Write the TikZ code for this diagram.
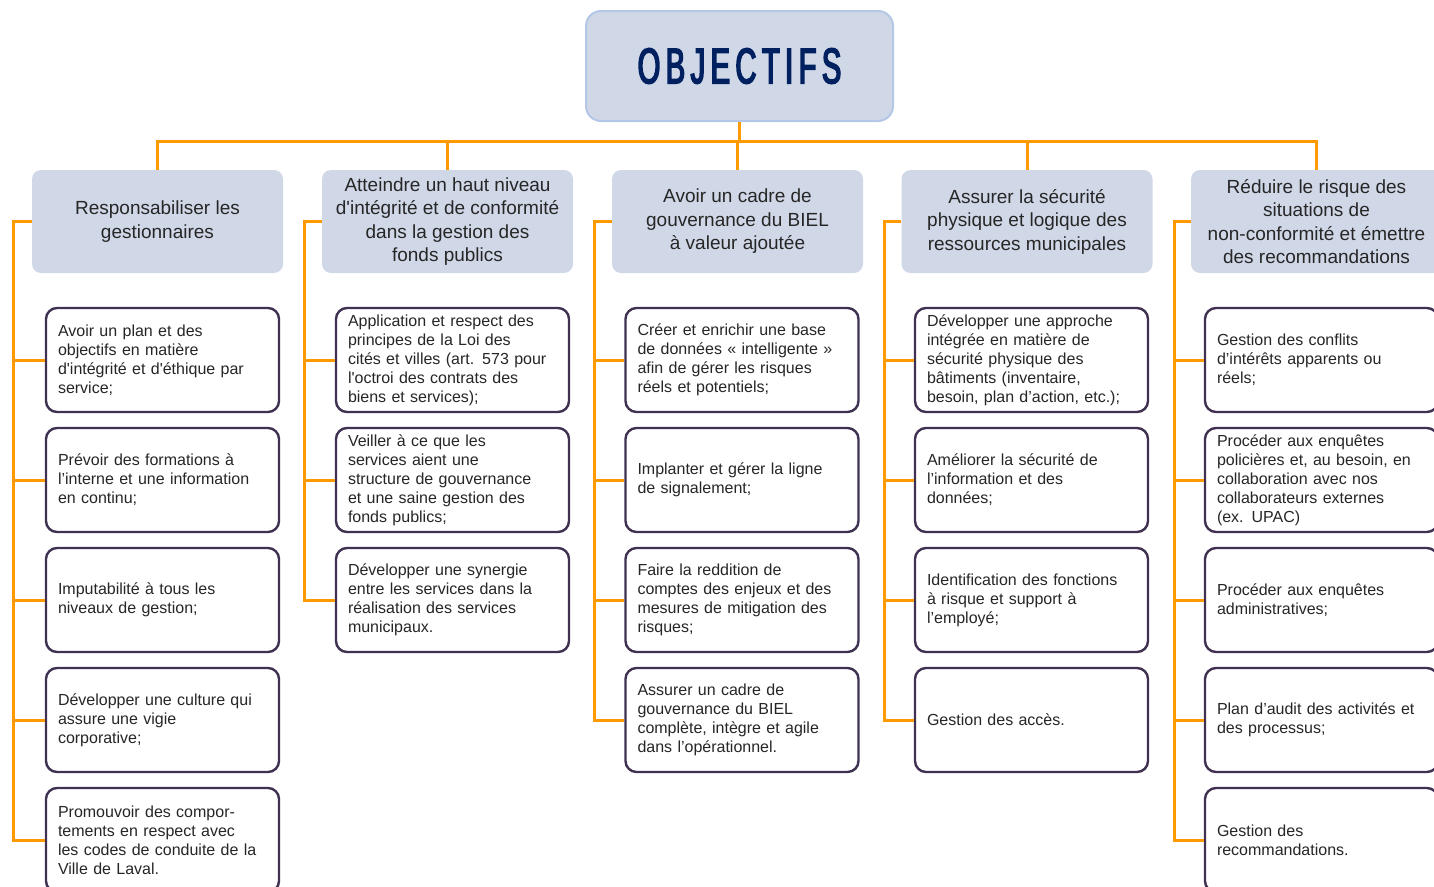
\documentclass[tikz,border=0pt]{standalone}
\usepackage{fontspec}
\setmainfont{Liberation Sans}
\newfontfamily\TitleFont{Liberation Sans}[FakeStretch=0.58,FakeBold=3.2,LetterSpace=11]
\usepackage{xcolor}
\definecolor{Col1}{RGB}{255,153,0}
\definecolor{Col2}{RGB}{208,216,232}
\definecolor{Col3}{RGB}{180,199,231}
\definecolor{Col4}{RGB}{64,49,82}
\definecolor{Col5}{RGB}{0,32,96}
\definecolor{Col6}{RGB}{38,38,38}
\usepackage{tikz}
\tikzstyle{Title}=[rectangle,rounded corners=15pt,draw=Col3,fill=Col2,line width=2pt,
minimum width=307pt,minimum height=110pt,text=Col5,font=\TitleFont\fontsize{50}{50}\selectfont]
\tikzstyle{Goal}=[rectangle,rounded corners=9pt,fill=Col2,minimum width=251pt,
minimum height=103pt,align=center,text=Col6,font=\fontsize{19}{23.5}\selectfont]
\tikzstyle{Item}=[rectangle,rounded corners=11pt,draw=Col4,fill=white,line width=2.4pt,
minimum height=104pt,text width=209pt,inner xsep=12pt,align=left,text=Col6,
font=\fontsize{16}{19}\selectfont]
\tikzstyle{Edge}=[draw=Col1,line width=3pt]

\begin{document}
\begin{tikzpicture}[x=1pt,y=-1pt]
        \useasboundingbox(0,0)rectangle(1434,886);
        \node[Title](obj)at(739.5,66.0){OBJECTIFS};
        % objectifs
        \node[Goal](h1)at(157.5,221.5){Responsabiliser les\\gestionnaires};
        \node[Goal](h2)at(447.5,221.5)
            {Atteindre un haut niveau\\d\textquotesingle intégrité et de conformité\\dans la gestion des\\fonds publics};
        \node[Goal](h3)at(737.5,221.5)
            {Avoir un cadre de\\gouvernance du BIEL\\à valeur ajoutée};
        \node[Goal](h4)at(1027.0,221.5)
            {Assurer la sécurité\\physique et logique des\\ressources municipales};
        \node[Goal](h5)at(1316.5,221.5)
            {Réduire le risque des\\situations de\\non-conformité et émettre\\des recommandations};
        % colonne 1
        \node[Item](c11)at(162.5,360.0)
            {Avoir un plan et des\\objectifs en matière\\d\textquotesingle intégrité et d\textquotesingle éthique par\\service;};
        \node[Item](c12)at(162.5,480.0)
            {Prévoir des formations à\\l’interne et une information\\en continu;};
        \node[Item](c13)at(162.5,600.0){Imputabilité à tous les\\niveaux de gestion;};
        \node[Item](c14)at(162.5,720.0)
            {Développer une culture qui\\assure une vigie\\corporative;};
        \node[Item](c15)at(162.5,840.0)
            {Promouvoir des compor-\\tements en respect avec\\les codes de conduite de la\\Ville de Laval.};
        % colonne 2
        \node[Item](c21)at(452.5,360.0)
            {Application et respect des\\principes de la Loi des\\cités et villes (art. 573 pour\\l\textquotesingle octroi des contrats des\\biens et services);};
        \node[Item](c22)at(452.5,480.0)
            {Veiller à ce que les\\services aient une\\structure de gouvernance\\et une saine gestion des\\fonds publics;};
        \node[Item](c23)at(452.5,600.0)
            {Développer une synergie\\entre les services dans la\\réalisation des services\\municipaux.};
        % colonne 3
        \node[Item](c31)at(742.0,360.0)
            {Créer et enrichir une base\\de données « intelligente »\\afin de gérer les risques\\réels et potentiels;};
        \node[Item](c32)at(742.0,480.0){Implanter et gérer la ligne\\de signalement;};
        \node[Item](c33)at(742.0,600.0)
            {Faire la reddition de\\comptes des enjeux et des\\mesures de mitigation des\\risques;};
        \node[Item](c34)at(742.0,720.0)
            {Assurer un cadre de\\gouvernance du BIEL\\complète, intègre et agile\\dans l’opérationnel.};
        % colonne 4
        \node[Item](c41)at(1031.5,360.0)
            {Développer une approche\\intégrée en matière de\\sécurité physique des\\bâtiments (inventaire,\\besoin, plan d’action, etc.);};
        \node[Item](c42)at(1031.5,480.0)
            {Améliorer la sécurité de\\l’information et des\\données;};
        \node[Item](c43)at(1031.5,600.0)
            {Identification des fonctions\\à risque et support à\\l’employé;};
        \node[Item](c44)at(1031.5,720.0){Gestion des accès.};
        % colonne 5
        \node[Item](c51)at(1321.5,360.0)
            {Gestion des conflits\\d’intérêts apparents ou\\réels;};
        \node[Item](c52)at(1321.5,480.0)
            {Procéder aux enquêtes\\policières et, au besoin, en\\collaboration avec nos\\collaborateurs externes\\(ex. UPAC)};
        \node[Item](c53)at(1321.5,600.0){Procéder aux enquêtes\\administratives;};
        \node[Item](c54)at(1321.5,720.0){Plan d’audit des activités et\\des processus;};
        \node[Item](c55)at(1321.5,840.0){Gestion des\\recommandations.};
        % liens
        \coordinate(bus)at(0,141);
        \coordinate(s1)at(13,0);
        \coordinate(s2)at(304,0);
        \coordinate(s3)at(594,0);
        \coordinate(s4)at(884,0);
        \coordinate(s5)at(1174,0);
        \draw[Edge](obj.south)--(obj.south|-bus);
        \draw[Edge](h1.north)--(h1.north|-bus)--(h5.north|-bus)--(h5.north);
        \draw[Edge](h2.north)--(h2.north|-bus);
        \draw[Edge](h3.north)--(h3.north|-bus);
        \draw[Edge](h4.north)--(h4.north|-bus);
        \draw[Edge](h1.west)--(h1.west-|s1)|-(c15.west);
        \draw[Edge](c11.west-|s1)--(c11.west);
        \draw[Edge](c12.west-|s1)--(c12.west);
        \draw[Edge](c13.west-|s1)--(c13.west);
        \draw[Edge](c14.west-|s1)--(c14.west);
        \draw[Edge](h2.west)--(h2.west-|s2)|-(c23.west);
        \draw[Edge](c21.west-|s2)--(c21.west);
        \draw[Edge](c22.west-|s2)--(c22.west);
        \draw[Edge](h3.west)--(h3.west-|s3)|-(c34.west);
        \draw[Edge](c31.west-|s3)--(c31.west);
        \draw[Edge](c32.west-|s3)--(c32.west);
        \draw[Edge](c33.west-|s3)--(c33.west);
        \draw[Edge](h4.west)--(h4.west-|s4)|-(c44.west);
        \draw[Edge](c41.west-|s4)--(c41.west);
        \draw[Edge](c42.west-|s4)--(c42.west);
        \draw[Edge](c43.west-|s4)--(c43.west);
        \draw[Edge](h5.west)--(h5.west-|s5)|-(c55.west);
        \draw[Edge](c51.west-|s5)--(c51.west);
        \draw[Edge](c52.west-|s5)--(c52.west);
        \draw[Edge](c53.west-|s5)--(c53.west);
        \draw[Edge](c54.west-|s5)--(c54.west);
    \end{tikzpicture}
\end{document}
